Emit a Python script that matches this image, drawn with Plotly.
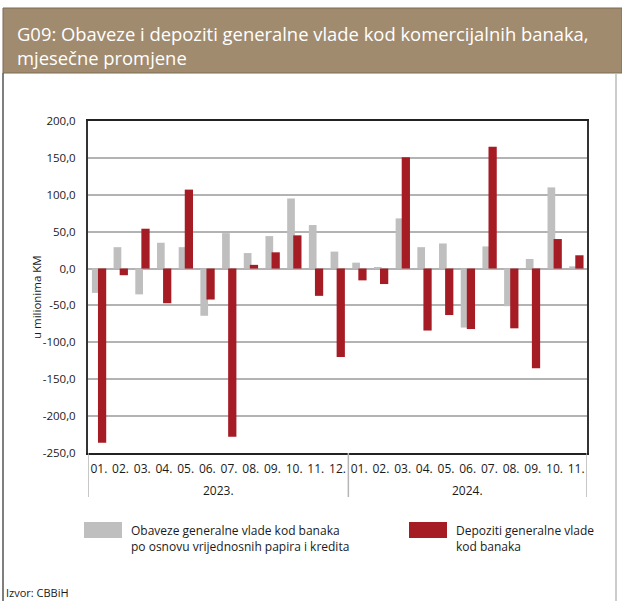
import plotly.graph_objects as go

# ---- data ----
months = ["01.", "02.", "03.", "04.", "05.", "06.", "07.", "08.", "09.", "10.", "11.", "12.",
          "01.", "02.", "03.", "04.", "05.", "06.", "07.", "08.", "09.", "10.", "11."]
years = ["2023."] * 12 + ["2024."] * 11
obaveze = [-33, 29, -35, 35, 29, -64, 48, 21, 44, 95, 59, 23,
           8, 1, 68, 29, 34, -80, 30, -51, 13, 110, 3]
depoziti = [-236, -9, 54, -47, 107, -42, -228, 5, 22, 45, -37, -120,
            -16, -21, 151, -84, -63, -82, 165, -81, -135, 40, 18]
y_ticks = [-250, -200, -150, -100, -50, 0, 50, 100, 150, 200]
y_ticktext = [f"{v:.1f}".replace(".", ",") for v in y_ticks]

name_obaveze = "Obaveze generalne vlade kod banaka<br>po osnovu vrijednosnih papira i kredita"
name_depoziti = "Depoziti generalne vlade<br>kod banaka"

GRAY = "#BFBFBF"
RED = "#A51C24"
FONT = "Open Sans"

# ---- geometry helpers (pixel -> paper) ----
W, H = 622, 601
L, R, T, B = 88, 35, 121, 148
PW, PH = W - L - R, H - T - B


def px(x):
    return (x - L) / PW


def py(y):
    return (H - B - y) / PH


x = list(range(len(months)))

fig = go.Figure()
fig.add_trace(go.Bar(x=x, y=obaveze, name="Obaveze", marker_color=GRAY,
                     marker_line_width=0, offset=-0.32, width=0.355, showlegend=False))
fig.add_trace(go.Bar(x=x, y=depoziti, name="Depoziti", marker_color=RED,
                     marker_line_width=0, offset=-0.04, width=0.38, showlegend=False))

shapes = []
annotations = []

# title band
shapes.append(dict(type="rect", xref="paper", yref="paper", x0=px(3), x1=px(622), y0=py(73), y1=py(8),
                   fillcolor="#A18B6F", line=dict(color="#7a6a56", width=1), layer="below"))
# outer frame lines
shapes.append(dict(type="line", xref="paper", yref="paper", x0=px(3), x1=px(3), y0=py(73), y1=py(601),
                   line=dict(color="#555555", width=1.5)))
shapes.append(dict(type="line", xref="paper", yref="paper", x0=px(616), x1=px(616), y0=py(73), y1=py(601),
                   line=dict(color="#BBBBBB", width=1.5)))

# year group dividers and labels
groups = []
for i, yv in enumerate(years):
    if not groups or groups[-1][0] != yv:
        groups.append([yv, i, i])
    else:
        groups[-1][2] = i
bounds = sorted(set([g[1] - 0.5 for g in groups] + [g[2] + 0.5 for g in groups]))
for bx in bounds:
    shapes.append(dict(type="line", xref="x", yref="paper", x0=bx, x1=bx, y0=0, y1=py(497),
                       line=dict(color="#B5B5B5", width=1.5)))
for yv, a, b in groups:
    annotations.append(dict(x=(a + b) / 2, xref="x", y=py(490), yref="paper", text=yv, showarrow=False,
                            xanchor="center", yanchor="middle", font=dict(size=12, color="#1a1a1a", family=FONT)))

# title
annotations.append(dict(x=px(15), y=py(19), xref="paper", yref="paper", xanchor="left", yanchor="top",
                        align="left", showarrow=False,
                        text="G09: Obaveze i depoziti generalne vlade kod komercijalnih banaka,<br>mjesečne promjene",
                        font=dict(size=18.4, color="#FFFFFF", family=FONT)))

# y-axis title
annotations.append(dict(x=px(36), y=py(297), xref="paper", yref="paper", text="u milionima KM",
                        textangle=-90, showarrow=False, xanchor="center", yanchor="middle",
                        font=dict(size=11.5, color="#1a1a1a", family=FONT)))

# legend (custom swatches)
shapes.append(dict(type="rect", xref="paper", yref="paper", x0=px(84), x1=px(122), y0=py(538), y1=py(522),
                   fillcolor=GRAY, line=dict(width=0)))
shapes.append(dict(type="rect", xref="paper", yref="paper", x0=px(409), x1=px(447), y0=py(538), y1=py(522),
                   fillcolor=RED, line=dict(width=0)))
annotations.append(dict(x=px(129), y=py(538), xref="paper", yref="paper", xanchor="left", yanchor="middle",
                        align="left", showarrow=False, text=name_obaveze,
                        font=dict(size=12, color="#1a1a1a", family=FONT)))
annotations.append(dict(x=px(454), y=py(538), xref="paper", yref="paper", xanchor="left", yanchor="middle",
                        align="left", showarrow=False, text=name_depoziti,
                        font=dict(size=12, color="#1a1a1a", family=FONT)))

# source
annotations.append(dict(x=px(4), y=py(592), xref="paper", yref="paper", xanchor="left", yanchor="middle",
                        showarrow=False, text="Izvor: CBBiH",
                        font=dict(size=11, color="#1a1a1a", family=FONT)))

fig.update_layout(
    width=W, height=H,
    margin=dict(l=L, r=R, t=T, b=B),
    paper_bgcolor="white", plot_bgcolor="white",
    barmode="overlay",
    font=dict(family=FONT, size=12, color="#1a1a1a"),
    shapes=shapes, annotations=annotations,
    showlegend=False,
)
fig.update_xaxes(range=[-0.5, len(months) - 0.5], tickvals=x, ticktext=months, ticks="",
                 showgrid=False, showline=True, linecolor="#222222", linewidth=1.5, mirror=True,
                 zeroline=False, ticklabelstandoff=4, tickfont=dict(size=12, family=FONT))
fig.update_yaxes(range=[-250, 200], tickvals=y_ticks, ticktext=y_ticktext, ticks="",
                 showgrid=True, gridcolor="#B3B3B3", gridwidth=1.5,
                 zeroline=True, zerolinecolor="#B3B3B3", zerolinewidth=1.5,
                 showline=True, linecolor="#333333", linewidth=2, mirror=True,
                 ticklabelstandoff=8, tickfont=dict(size=11.5, family=FONT))

fig.write_html("out.html", config={"displayModeBar": False},
               post_script="document.body.style.margin='0';document.body.style.padding='0';")
